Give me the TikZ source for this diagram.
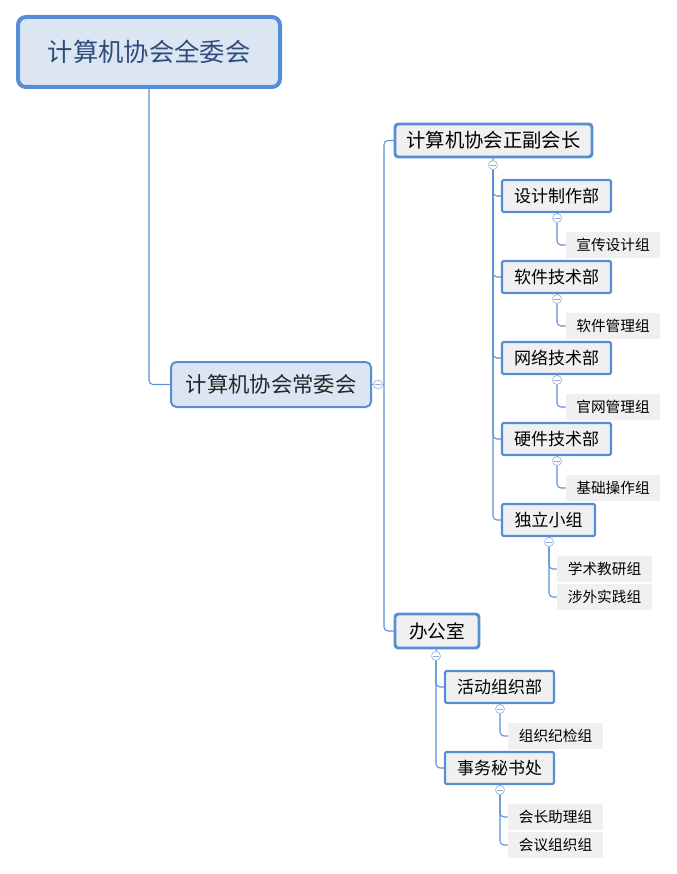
\documentclass[tikz,border=0pt]{standalone}
\usepackage{fontspec}
\setmainfont{Noto Sans CJK SC}
\definecolor{lineblue}{HTML}{5B8FD6}
\definecolor{boxblue}{HTML}{558ED5}
\definecolor{lightfill}{HTML}{DCE6F2}
\definecolor{grayfill}{HTML}{F0F0F0}
\definecolor{roottext}{HTML}{2F4C7C}
\definecolor{togglec}{HTML}{A6BEE6}
\begin{document}
\begin{tikzpicture}[x=0.75pt,y=-0.75pt,
  rootbox/.style={draw=boxblue, line width=3pt, fill=lightfill, rounded corners=6pt,
    minimum width=196.5pt, minimum height=52.5pt, inner sep=0pt, text=roottext,
    font=\fontsize{19pt}{23pt}\selectfont},
  lonebox/.style={draw=boxblue, line width=1.5pt, fill=lightfill, rounded corners=4pt,
    minimum width=150pt, minimum height=33.75pt, inner sep=0pt, text=black!85,
    font=\fontsize{16pt}{20pt}\selectfont},
  ltwobox/.style={draw=boxblue, line width=2.2pt, fill=grayfill, rounded corners=2.5pt,
    minimum height=24.75pt, inner sep=0pt, text=black,
    font=\fontsize{14.5pt}{18pt}\selectfont},
  lthreebox/.style={draw=boxblue, line width=1.6pt, fill=grayfill, rounded corners=1pt,
    minimum width=81.75pt, minimum height=24pt, inner sep=0pt, text=black,
    font=\fontsize{12.75pt}{16pt}\selectfont},
  leafbox/.style={fill=grayfill, minimum width=70.5pt, minimum height=19.5pt,
    inner sep=0pt, text=black, font=\fontsize{11pt}{14pt}\selectfont},
  toggle/.style={circle, draw=togglec, fill=white, line width=0.6pt,
    minimum size=6.8pt, inner sep=0pt,
    path picture={\draw[togglec!90!black, line width=0.6pt]
      ([xshift=1.5pt]path picture bounding box.west) --
      ([xshift=-1.5pt]path picture bounding box.east);}},
  conn/.style={draw=lineblue, line width=0.8pt, rounded corners=3pt}
]
\useasboundingbox (0,0) rectangle (677,874);

% root and level 1
\node[rootbox] (root) at (149,52) {计算机协会全委会};
\node[lonebox] (cwh) at (271,384.5) {计算机协会常委会};
\node[toggle] (t0) at (378,384.5) {};
\coordinate (j0) at (384,384.5);

% level 2
\node[ltwobox, minimum width=147.75pt] (zf) at (493.5,140.5) {计算机协会正副会长};
\node[ltwobox, minimum width=63pt, minimum height=25.5pt, font=\fontsize{14pt}{18pt}\selectfont] (bgs) at (437,631) {办公室};
\node[toggle] (tzf) at (493,165) {};
\node[toggle] (tbgs) at (436,656) {};

% level 3 under 正副会长
\node[lthreebox] (sj) at (556.5,196) {设计制作部};
\node[lthreebox] (rj) at (556.5,277) {软件技术部};
\node[lthreebox] (wl) at (556.5,358) {网络技术部};
\node[lthreebox] (yj) at (556.5,439) {硬件技术部};
\node[lthreebox, minimum width=69.75pt] (dl) at (548.5,520) {独立小组};
\node[toggle] (tsj) at (557,218) {};
\node[toggle] (trj) at (557,299) {};
\node[toggle] (twl) at (557,380) {};
\node[toggle] (tyj) at (557,461) {};
\node[toggle] (tdl) at (549,542) {};

% level 3 under 办公室
\node[lthreebox] (hd) at (499.5,687) {活动组织部};
\node[lthreebox] (sw) at (499.5,768) {事务秘书处};
\node[toggle] (thd) at (500,709) {};
\node[toggle] (tsw) at (500,790) {};

% leaves
\node[leafbox] (xc) at (613,245) {宣传设计组};
\node[leafbox] (rg) at (613,326) {软件管理组};
\node[leafbox] (gw) at (613,407) {官网管理组};
\node[leafbox] (jc) at (613,488) {基础操作组};
\node[leafbox, minimum width=71.25pt] (xs) at (604.5,569) {学术教研组};
\node[leafbox, minimum width=71.25pt] (sw2) at (604.5,597) {涉外实践组};
\node[leafbox, minimum width=71.25pt] (zz) at (555.5,736) {组织纪检组};
\node[leafbox, minimum width=71.25pt] (hz) at (555.5,817) {会长助理组};
\node[leafbox, minimum width=71.25pt] (hy) at (555.5,845) {会议组织组};

% connectors
\draw[conn] (root.south) |- (cwh.west);
\draw[conn] (cwh.east) -- (t0.west);
\draw[conn] (t0.east) -- (j0);
\draw[conn] (j0) |- (zf.west);
\draw[conn] (j0) |- (bgs.west);

\draw[conn] (zf.south) -- (tzf.north);
\draw[conn] (tzf.south) |- (sj.west);
\draw[conn] (tzf.south) |- (rj.west);
\draw[conn] (tzf.south) |- (wl.west);
\draw[conn] (tzf.south) |- (yj.west);
\draw[conn] (tzf.south) |- (dl.west);

\draw[conn] (bgs.south) -- (tbgs.north);
\draw[conn] (tbgs.south) |- (hd.west);
\draw[conn] (tbgs.south) |- (sw.west);

\foreach \p/\t/\c in {sj/tsj/xc, rj/trj/rg, wl/twl/gw, yj/tyj/jc, dl/tdl/xs, dl/tdl/sw2, hd/thd/zz, sw/tsw/hz, sw/tsw/hy}{
  \draw[conn] (\p.south) -- (\t.north);
  \draw[conn] (\t.south) |- (\c.west);
}
\end{tikzpicture}
\end{document}
